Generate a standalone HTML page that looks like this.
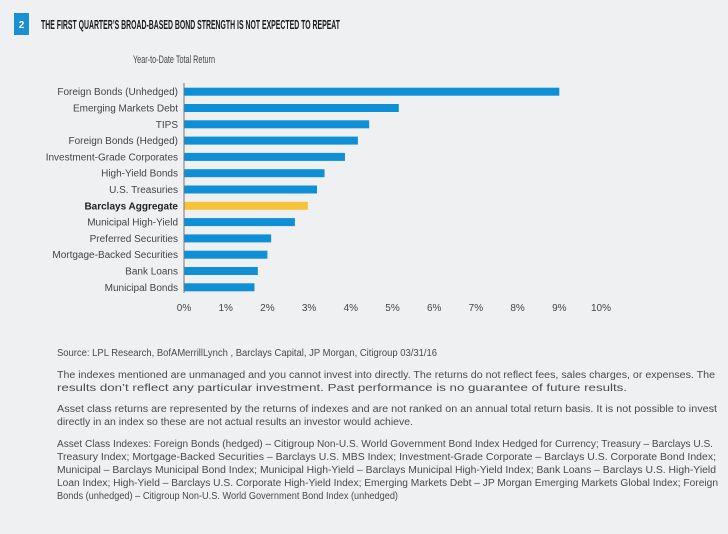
<!DOCTYPE html>
<html><head><meta charset="utf-8"><style>
html,body{margin:0;padding:0;background:#eff0f2;}
svg{display:block;font-family:"Liberation Sans",sans-serif;}
</style></head><body>
<svg width="728" height="534" viewBox="0 0 728 534">
<rect x="0" y="0" width="728" height="534" fill="#eff0f2"/>
<rect x="14" y="13" width="15" height="22" fill="#1a8fd2"/>
<text x="21.5" y="28" fill="#fff" font-size="10" font-weight="bold" text-anchor="middle">2</text>
<text x="41" y="29" fill="#1a1a1a" font-size="12.5" font-weight="bold" textLength="299" lengthAdjust="spacingAndGlyphs">THE FIRST QUARTER’S BROAD-BASED BOND STRENGTH IS NOT EXPECTED TO REPEAT</text>
<text x="133" y="63" fill="#444" font-size="11" textLength="82" lengthAdjust="spacingAndGlyphs">Year-to-Date Total Return</text>
<g id="plot"></g>
<g id="foot" fill="#4a4a4a" font-size="10"></g>
</svg>
<script>
const categories=["Foreign Bonds (Unhedged)","Emerging Markets Debt","TIPS","Foreign Bonds (Hedged)","Investment-Grade Corporates","High-Yield Bonds","U.S. Treasuries","Barclays Aggregate","Municipal High-Yield","Preferred Securities","Mortgage-Backed Securities","Bank Loans","Municipal Bonds"];
const values=[9.0,5.15,4.44,4.17,3.86,3.37,3.19,2.97,2.66,2.09,2.0,1.77,1.69];
const highlight=["Barclays Aggregate"];
const ticks=[0,1,2,3,4,5,6,7,8,9,10];
const tickLabels=["0%","1%","2%","3%","4%","5%","6%","7%","8%","9%","10%"];
const NS="http://www.w3.org/2000/svg";
const x0=184,pxPer=41.7,y0=91.7,step=16.3,bh=8;
const xs=v=>x0+v*pxPer;
const ys=i=>y0+i*step;
const g=document.getElementById('plot');
function mk(t,a){const e=document.createElementNS(NS,t);for(const k in a)e.setAttribute(k,a[k]);return e;}
categories.forEach((c,i)=>{
  const hl=highlight.includes(c);
  const r=mk('rect',{x:x0,y:ys(i)-bh/2,width:xs(values[i])-x0,height:bh,fill:hl?'#f7c33b':'#0f8fd6'});
  
  
  g.appendChild(r);
  const t=mk('text',{x:178,y:ys(i)+3.5,'text-anchor':'end','font-size':'10',fill:hl?'#222':'#444','font-weight':hl?'bold':'normal'});
  t.textContent=c;
  
  
  g.appendChild(t);
});
const ax=mk('line',{x1:x0,x2:x0,y1:83,y2:293,stroke:'#777','stroke-width':1});


g.appendChild(ax);
ticks.forEach((v,i)=>{
  const t=mk('text',{x:xs(v),y:311,'text-anchor':'middle','font-size':'10',fill:'#444'});
  t.textContent=tickLabels[i];
  
  
  g.appendChild(t);
});
const lines=[
[356,"Source: LPL Research, BofAMerrillLynch , Barclays Capital, JP Morgan, Citigroup   03/31/16",437],
[378,"The indexes mentioned are unmanaged and you cannot invest into directly. The returns do not reflect fees, sales charges, or expenses. The",715],
[391,"results don’t reflect any particular investment. Past performance is no guarantee of future results.",627],
[412,"Asset class returns are represented by the returns of indexes and are not ranked on an annual total return basis. It is not possible to invest",717],
[425,"directly in an index so these are not actual results an investor would achieve.",413],
[447,"Asset Class Indexes: Foreign Bonds (hedged) – Citigroup Non-U.S. World Government Bond Index Hedged for Currency; Treasury – Barclays U.S.",713],
[460,"Treasury Index; Mortgage-Backed Securities – Barclays U.S. MBS Index; Investment-Grade Corporate – Barclays U.S. Corporate Bond Index;",716],
[473,"Municipal – Barclays Municipal Bond Index; Municipal High-Yield – Barclays Municipal High-Yield Index; Bank Loans – Barclays U.S. High-Yield",716],
[486,"Loan Index; High-Yield – Barclays U.S. Corporate High-Yield Index; Emerging Markets Debt – JP Morgan Emerging Markets Global Index; Foreign",718],
[499,"Bonds (unhedged) – Citigroup Non-U.S. World Government Bond Index (unhedged)",398]];
const f=document.getElementById('foot');
lines.forEach(l=>{
  const t=mk('text',{x:57,y:l[0],textLength:l[2]-57,lengthAdjust:'spacingAndGlyphs'});
  t.textContent=l[1];
  
  
  f.appendChild(t);
});
</script>
</body></html>
